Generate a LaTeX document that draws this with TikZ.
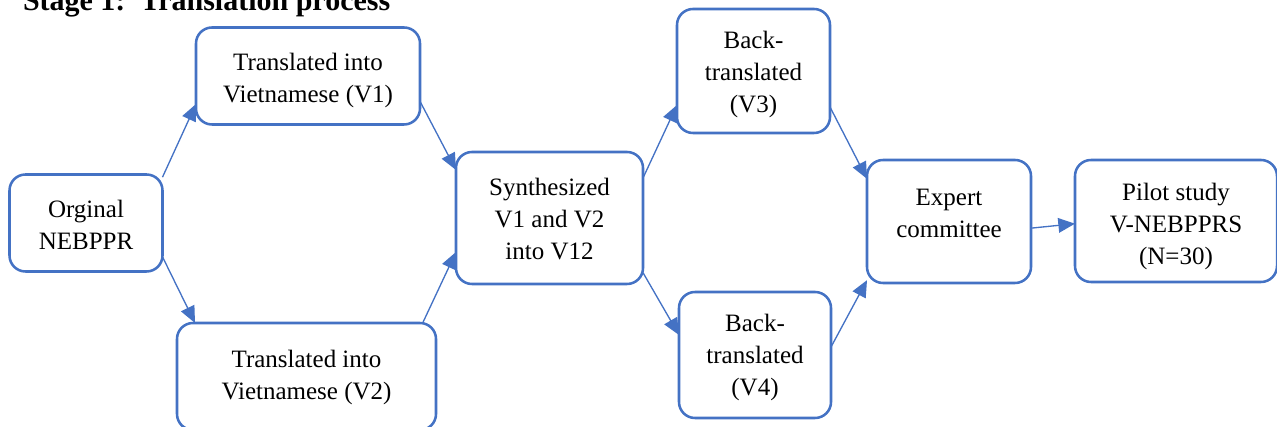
\documentclass[tikz,border=0pt]{standalone}
\usepackage{fontspec}
\setmainfont{Liberation Serif}
\usetikzlibrary{arrows.meta}
\definecolor{boxblue}{HTML}{4472C4}
\begin{document}
\begin{tikzpicture}[x=0.75pt, y=-0.75pt, inner sep=0pt, outer sep=0pt,
		stagebox/.style={draw=boxblue, fill=white, line width=1.9pt, rounded corners=12pt},
		stagetext/.style={align=center, font=\fontsize{18.75}{24}\selectfont},
		flow/.style={draw=boxblue, line width=1pt, -{Triangle[length=12.5pt, width=11pt]}}]
			\useasboundingbox (0, 0) rectangle (1277, 427);
			\node[anchor=base west, font=\fontsize{22.5}{27}\selectfont\bfseries] (title) at (23, 11){Stage 1:\ \ Translation process};
			% boxes
			\node[stagebox, minimum width=114.75pt, minimum height=72.75pt] (boxorig) at (86, 223){};
			\node[stagebox, minimum width=168pt, minimum height=72.75pt] (boxv1) at (308, 76){};
			\node[stagebox, minimum width=194.25pt, minimum height=80.25pt] (boxv2) at (306.5, 376.5){};
			\node[stagebox, minimum width=140.25pt, minimum height=99pt] (boxsynth) at (549.5, 218){};
			\node[stagebox, minimum width=114.75pt, minimum height=93pt] (boxv3) at (753.5, 71){};
			\node[stagebox, minimum width=114pt, minimum height=94.5pt] (boxv4) at (755, 355){};
			\node[stagebox, minimum width=123pt, minimum height=92.25pt] (boxexpert) at (949, 221.5){};
			\node[stagebox, minimum width=151.5pt, minimum height=91.5pt] (boxpilot) at (1176, 221){};
			% box texts
			\node[stagetext] (textorig) at (86, 224.5){Orginal\\NEBPPR};
			\node[stagetext] (textv1) at (308, 80){Translated into\\Vietnamese (V1)};
			\node[stagetext] (textv2) at (306.5, 377.5){Translated into\\Vietnamese (V2)};
			\node[stagetext] (textsynth) at (549.5, 219){Synthesized\\V1 and V2\\into V12};
			\node[stagetext] (textv3) at (753.5, 74){Back-\\translated\\(V3)};
			\node[stagetext] (textv4) at (755, 357){Back-\\translated\\(V4)};
			\node[stagetext] (textexpert) at (949, 213){Expert\\committee};
			\node[stagetext] (textpilot) at (1176, 226){Pilot study\\V-NEBPPRS\\(N=30)};
			% forward translation
			\path[flow] ([yshift=-2pt]boxorig.north east) -- ([yshift=-21pt]boxv1.west);
			\path[flow] ([yshift=11pt]boxorig.south east) -- ([xshift=13.5pt]boxv2.north west);
			\path[flow] ([yshift=-19pt]boxv1.east) -- ([yshift=36pt]boxsynth.west);
			\path[flow] ([xshift=-10pt]boxv2.north east) -- ([yshift=-25.5pt]boxsynth.west);
			% back translation
			\path[flow] ([yshift=30pt]boxsynth.east) -- ([yshift=-25.5pt]boxv3.west);
			\path[flow] ([yshift=-41pt]boxsynth.east) -- ([yshift=15pt]boxv4.west);
			\path[flow] ([yshift=-27pt]boxv3.east) -- ([yshift=32pt]boxexpert.west);
			\path[flow] ([yshift=6pt]boxv4.east) -- ([yshift=-44pt]boxexpert.west);
			\path[flow] ([yshift=-5pt]boxexpert.east) -- ([yshift=-2pt]boxpilot.west);
		\end{tikzpicture}
\end{document}
